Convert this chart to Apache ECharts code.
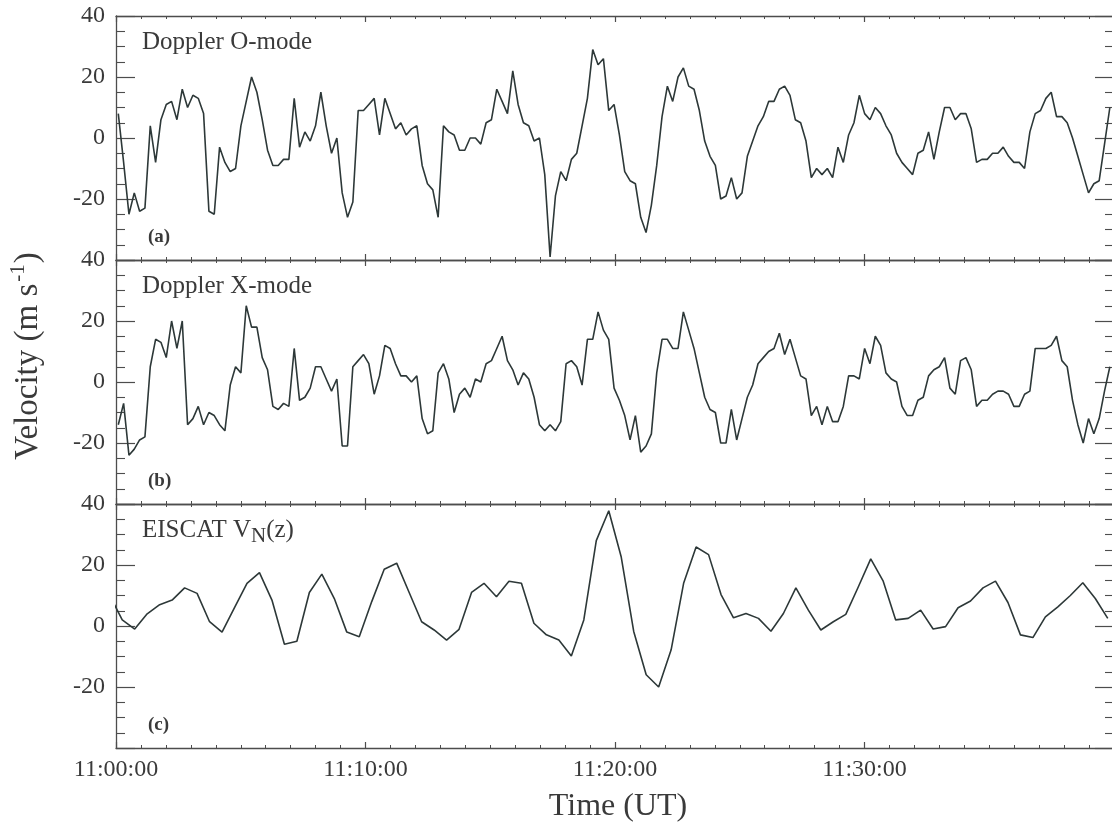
<!DOCTYPE html>
<html>
<head>
<meta charset="utf-8">
<title>Doppler and EISCAT vertical velocities</title>
<script src="https://cdn.jsdelivr.net/npm/echarts@6/dist/echarts.min.js"></script>
<style>
  html, body { margin: 0; padding: 0; background: #ffffff; }
  #chart { width: 1112px; height: 829px; }
</style>
</head>
<body>
<div id="chart"></div>
<script>
// Time axis: seconds after 11:00:00 UT
const START_HOUR = 11;
const X_MIN_SEC = 0;
const X_MAX_SEC = 2400;
const X_MAJOR_SEC = 600;

// Doppler sounder sampling (seconds after 11:00:00)
const DOPPLER_T0 = 5.5;
const DOPPLER_STEP = 12.82;

// EISCAT sampling (seconds after 11:00:00)
const EISCAT_T0 = -15;
const EISCAT_STEP = 30;

// Doppler O-mode velocity (m/s)
const oMode = [
  8, -8, -25, -18, -24, -23, 4, -8, 6, 11,
  12, 6, 16, 10, 14, 13, 8, -24, -25, -3,
  -8, -11, -10, 4, 12, 20, 15, 6, -4, -9,
  -9, -7, -7, 13, -3, 2, -1, 4, 15, 4,
  -5, 0, -18, -26, -21, 9, 9, 11, 13, 1,
  13, 8, 3, 5, 1, 3, 4, -9, -15, -17,
  -26, 4, 2, 1, -4, -4, 0, 0, -2, 5,
  6, 16, 12, 8, 22, 11, 5, 4, -1, 0,
  -12, -39, -19, -11, -14, -7, -5, 4, 13, 29,
  24, 26, 9, 11, 1, -11, -14, -15, -26, -31,
  -22, -9, 7, 17, 12, 20, 23, 17, 16, 9,
  -1, -6, -9, -20, -19, -13, -20, -18, -6, -1,
  4, 7, 12, 12, 16, 17, 14, 6, 5, -1,
  -13, -10, -12, -10, -13, -3, -8, 1, 5, 14,
  8, 6, 10, 8, 4, 1, -5, -8, -10, -12,
  -5, -4, 2, -7, 2, 10, 10, 6, 8, 8,
  3, -8, -7, -7, -5, -5, -3, -6, -8, -8,
  -10, 2, 8, 9, 13, 15, 7, 7, 5, 0,
  -6, -12, -18, -15, -14, -2, 10
];

// Doppler X-mode velocity (m/s)
const xMode = [
  -14, -7, -24, -22, -19, -18, 5, 14, 13, 8,
  20, 11, 20, -14, -12, -8, -14, -10, -11, -14,
  -16, -1, 5, 3, 25, 18, 18, 8, 4, -8,
  -9, -7, -8, 11, -6, -5, -2, 5, 5, 1,
  -3, 1, -21, -21, 5, 7, 9, 6, -4, 2,
  12, 11, 6, 2, 2, 0, 2, -12, -17, -16,
  3, 6, 1, -10, -4, -2, -5, 1, 0, 6,
  7, 11, 15, 7, 4, -1, 3, 1, -5, -14,
  -16, -14, -16, -13, 6, 7, 5, -1, 14, 14,
  23, 17, 14, -2, -6, -11, -19, -11, -23, -21,
  -17, 3, 14, 14, 11, 11, 23, 17, 11, 3,
  -5, -9, -10, -20, -20, -9, -19, -12, -5, -1,
  6, 8, 10, 11, 16, 9, 14, 8, 2, 1,
  -11, -8, -14, -8, -13, -13, -8, 2, 2, 1,
  11, 6, 15, 12, 3, 1, 0, -8, -11, -11,
  -6, -5, 2, 4, 5, 8, -2, -4, 7, 8,
  4, -8, -6, -6, -4, -3, -3, -4, -8, -8,
  -4, -3, 11, 11, 11, 12, 15, 7, 5, -6,
  -14, -20, -12, -17, -12, -3, 5
];

// EISCAT vertical velocity V_N(z) (m/s)
const eiscatVN = [
  10, 2, -1, 4, 7, 8.5, 12.5, 10.7, 1.4, -2,
  6, 14, 17.5, 8.5, -6, -5, 11, 17, 9, -2,
  -3.5, 8, 18.6, 20.6, 11, 1.4, -1.3, -4.6, -1.1, 11,
  14, 9.6, 14.7, 14, 0.9, -2.9, -4.6, -9.8, 2, 28,
  37.8, 22.6, -1.8, -16, -20, -7.8, 14, 25.9, 23.4, 10.3,
  2.7, 4.1, 2.5, -1.7, 4.1, 12.5, 5.2, -1.3, 1.4, 3.8,
  12.8, 22, 14.7, 2, 2.5, 5.2, -1, -0.2, 6, 8.2,
  12.5, 14.7, 7.7, -2.9, -3.8, 3, 6.3, 10, 14.2, 9,
  2.5
];

// Velocity axis range shared by all panels
const Y_MIN = -40;
const Y_MAX = 40;
const Y_MAJOR = 20;

const panelTitles = ['Doppler O-mode', 'Doppler X-mode', '{m|EISCAT V}{sub|N}{m|(z)}'];
const panelTags = ['(a)', '(b)', '(c)'];

const FONT = '"Liberation Serif", "Times New Roman", serif';
const AXIS_COLOR = '#4d4d4d';
const TEXT_COLOR = '#3a3a3a';
const LINE_COLOR = '#2d3838';

// Panel geometry (pixels)
const GRID_LEFT = 116;
const GRID_WIDTH = 998;
const GRID_TOP = 16;
const GRID_HEIGHT = 244;

function clock(sec) {
  const m = Math.round(sec / 60);
  return START_HOUR + ':' + String(m).padStart(2, '0') + ':00';
}

function toPairs(values, t0, step) {
  return values.map((v, i) => [t0 + i * step, v]);
}

function makeX(gridIndex, position, withLabels) {
  return {
    type: 'value',
    gridIndex: gridIndex,
    position: position,
    min: X_MIN_SEC,
    max: X_MAX_SEC,
    interval: X_MAJOR_SEC,
    axisLine: { show: true, onZero: false, lineStyle: { color: AXIS_COLOR, width: 1.3 } },
    axisTick: { show: true, inside: true, length: 6, lineStyle: { color: AXIS_COLOR, width: 1.2 } },
    minorTick: { show: true, splitNumber: 10, length: 3, lineStyle: { color: AXIS_COLOR, width: 1 } },
    splitLine: { show: false },
    minorSplitLine: { show: false },
    axisLabel: {
      show: withLabels,
      margin: 10,
      fontFamily: FONT,
      fontSize: 24,
      color: TEXT_COLOR,
      formatter: v => (v >= X_MAX_SEC ? '' : clock(v))
    }
  };
}

function makeY(gridIndex, position, withLabels) {
  return {
    type: 'value',
    gridIndex: gridIndex,
    position: position,
    min: Y_MIN,
    max: Y_MAX,
    interval: Y_MAJOR,
    axisLine: { show: true, onZero: false, lineStyle: { color: AXIS_COLOR, width: 1.3 } },
    axisTick: { show: true, inside: true, length: 19, lineStyle: { color: AXIS_COLOR, width: 1.2 } },
    minorTick: { show: true, splitNumber: 4, length: 9, lineStyle: { color: AXIS_COLOR, width: 1.1 } },
    splitLine: { show: false },
    minorSplitLine: { show: false },
    axisLabel: {
      show: withLabels,
      margin: 11,
      fontFamily: FONT,
      fontSize: 24,
      color: TEXT_COLOR,
      formatter: v => (v <= Y_MIN ? '' : String(v))
    }
  };
}

const grids = [];
const xAxes = [];
const yAxes = [];
for (let g = 0; g < 3; g++) {
  grids.push({
    left: GRID_LEFT,
    width: GRID_WIDTH,
    top: GRID_TOP + g * GRID_HEIGHT,
    height: GRID_HEIGHT,
    outerBoundsMode: 'none',
    containLabel: false
  });
  xAxes.push(makeX(g, 'bottom', g === 2));
  xAxes.push(makeX(g, 'top', false));
  yAxes.push(makeY(g, 'left', true));
  yAxes.push(makeY(g, 'right', false));
}

const seriesData = [
  toPairs(oMode, DOPPLER_T0, DOPPLER_STEP),
  toPairs(xMode, DOPPLER_T0, DOPPLER_STEP),
  toPairs(eiscatVN, EISCAT_T0, EISCAT_STEP)
];

const series = seriesData.map((data, g) => ({
  type: 'line',
  xAxisIndex: g * 2,
  yAxisIndex: g * 2,
  data: data,
  showSymbol: false,
  symbol: 'none',
  clip: true,
  lineStyle: { color: LINE_COLOR, width: 1.6 },
  emphasis: { disabled: true }
}));

const graphics = [];
panelTitles.forEach((t, g) => {
  graphics.push({
    type: 'text',
    x: 142,
    y: GRID_TOP + g * GRID_HEIGHT + 26.5,
    silent: true,
    style: {
      text: t,
      fill: TEXT_COLOR,
      font: '25px ' + FONT,
      verticalAlign: 'middle',
      align: 'left',
      rich: {
        m: { fontSize: 25, fontFamily: FONT, fill: TEXT_COLOR, lineHeight: 32, verticalAlign: 'middle' },
        sub: { fontSize: 21, fontFamily: FONT, fill: TEXT_COLOR, lineHeight: 21, verticalAlign: 'bottom' }
      }
    }
  });
});
panelTags.forEach((t, g) => {
  graphics.push({
    type: 'text',
    x: 148,
    y: GRID_TOP + (g + 1) * GRID_HEIGHT - 23,
    silent: true,
    style: {
      text: t,
      fill: TEXT_COLOR,
      font: 'bold 19px ' + FONT,
      verticalAlign: 'middle',
      align: 'left'
    }
  });
});
// Axis titles
graphics.push({
  type: 'text',
  x: 618,
  y: 807,
  silent: true,
  style: {
    text: 'Time (UT)',
    fill: TEXT_COLOR,
    font: '32px ' + FONT,
    align: 'center',
    verticalAlign: 'middle'
  }
});
graphics.push({
  type: 'text',
  x: 28,
  y: 356,
  rotation: Math.PI / 2,
  silent: true,
  style: {
    text: '{m|Velocity (m s}{sup|-1}{m|)}',
    fill: TEXT_COLOR,
    align: 'center',
    verticalAlign: 'middle',
    rich: {
      m: { fontSize: 33, fontFamily: FONT, fill: TEXT_COLOR, lineHeight: 40, verticalAlign: 'middle' },
      sup: { fontSize: 21, fontFamily: FONT, fill: TEXT_COLOR, lineHeight: 21, verticalAlign: 'top', padding: [0, 1, 0, 2] }
    }
  }
});

const chart = echarts.init(document.getElementById('chart'), null, { renderer: 'canvas' });
chart.setOption({
  backgroundColor: '#ffffff',
  animation: false,
  grid: grids,
  xAxis: xAxes,
  yAxis: yAxes,
  series: series,
  graphic: { elements: graphics }
});
</script>
</body>
</html>
